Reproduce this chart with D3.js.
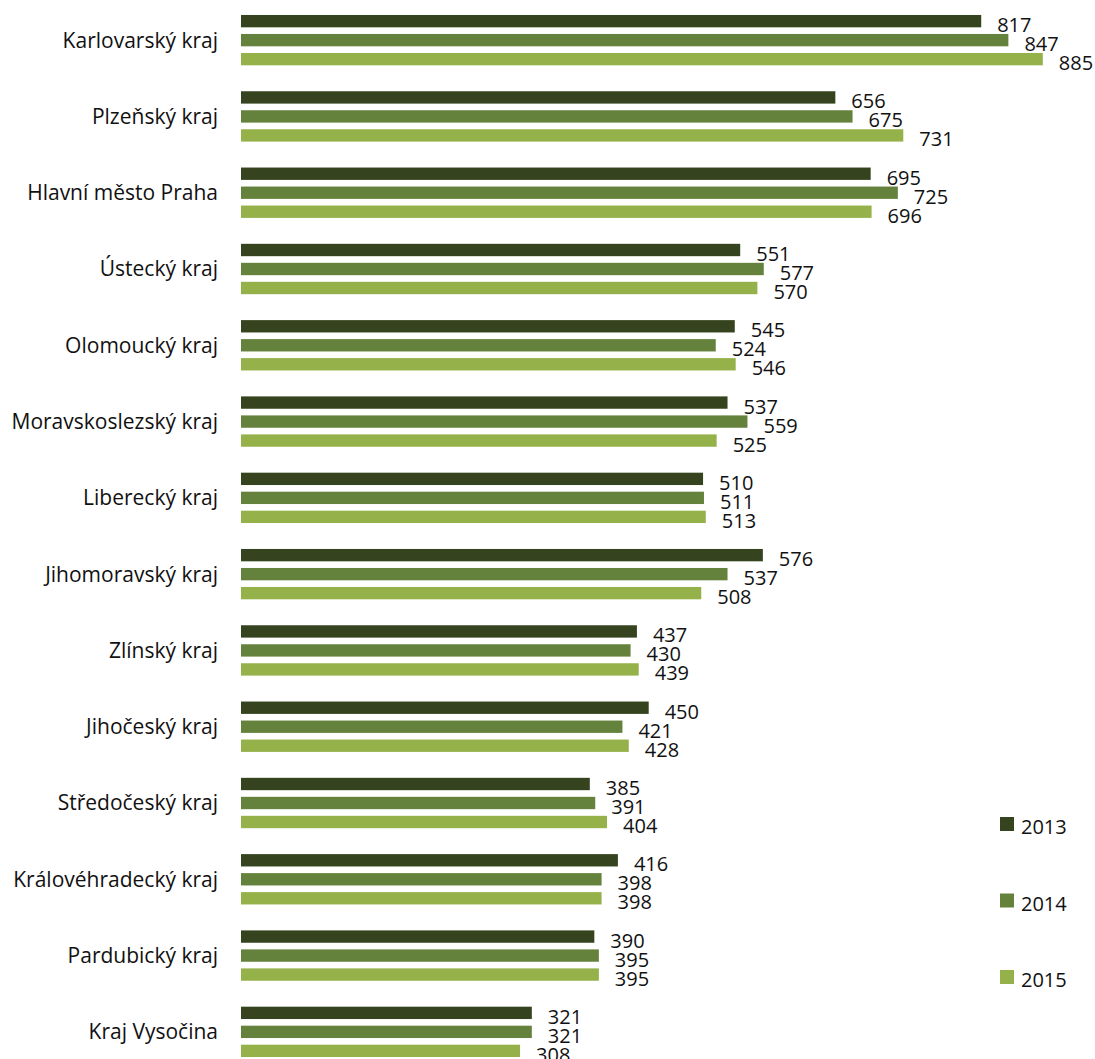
<!DOCTYPE html>
<html><head><meta charset="utf-8">
<script src="https://cdn.jsdelivr.net/npm/d3@7"></script>
<style>
body{margin:0;background:#fff;}
text{font-family:"Open Sans","Noto Sans",sans-serif;fill:#111;}
</style></head>
<body><svg id="c" width="1095" height="1059"></svg>
<script>
const categories = ["Karlovarský kraj","Plzeňský kraj","Hlavní město Praha","Ústecký kraj","Olomoucký kraj","Moravskoslezský kraj","Liberecký kraj","Jihomoravský kraj","Zlínský kraj","Jihočeský kraj","Středočeský kraj","Královéhradecký kraj","Pardubický kraj","Kraj Vysočina"];
const years = ["2013","2014","2015"];
const v2013 = [817,656,695,551,545,537,510,576,437,450,385,416,390,321];
const v2014 = [847,675,725,577,524,559,511,537,430,421,391,398,395,321];
const v2015 = [885,731,696,570,546,525,513,508,439,428,404,398,395,308];
const seriesValues = [v2013, v2014, v2015];
const colors = ["#35431F","#65823D","#95B14A"];

const svg = d3.select("#c");
const x = d3.scaleLinear().domain([0,1000]).range([241,1147]);
const y = d3.scaleBand().domain(categories).range([2,1070]).paddingInner(0.34).paddingOuter(0.17);
const ys = d3.scaleBand().domain(years).range([0,y.bandwidth()]).paddingInner(0.35).paddingOuter(0);

const g = svg.append("g");
categories.forEach((c,i)=>{
  const grp = g.append("g").attr("transform",`translate(0,${y(c)})`);
  years.forEach((yr,j)=>{
    const val = seriesValues[j][i];
    grp.append("rect").attr("x",x(0)).attr("y",ys(yr)).attr("width",x(val)-x(0)).attr("height",ys.bandwidth()).attr("fill",colors[j]);
    grp.append("text").attr("x",x(val)+16).attr("y",ys(yr)+ys.bandwidth()/2+4).attr("dy","0.35em")
      .attr("font-size",20).text(val);
  });
});

// category axis
const yAxis = d3.axisLeft(y).tickSize(0).tickPadding(0);
const ax = svg.append("g").attr("transform","translate(218,0)").call(yAxis);
ax.select(".domain").remove();
ax.selectAll("text").attr("font-size",21).attr("dy","0.35em").style("font-family",'"Open Sans","Noto Sans",sans-serif').attr("fill","#111");

// legend
const legY = d3.scalePoint().domain(years).range([827,980]);
const leg = svg.append("g");
years.forEach((yr,j)=>{
  leg.append("rect").attr("x",1000).attr("y",legY(yr)-10).attr("width",14).attr("height",14).attr("fill",colors[j]);
  leg.append("text").attr("x",1021).attr("y",legY(yr)).attr("dy","0.35em").attr("font-size",20).text(yr);
});
</script></body></html>
